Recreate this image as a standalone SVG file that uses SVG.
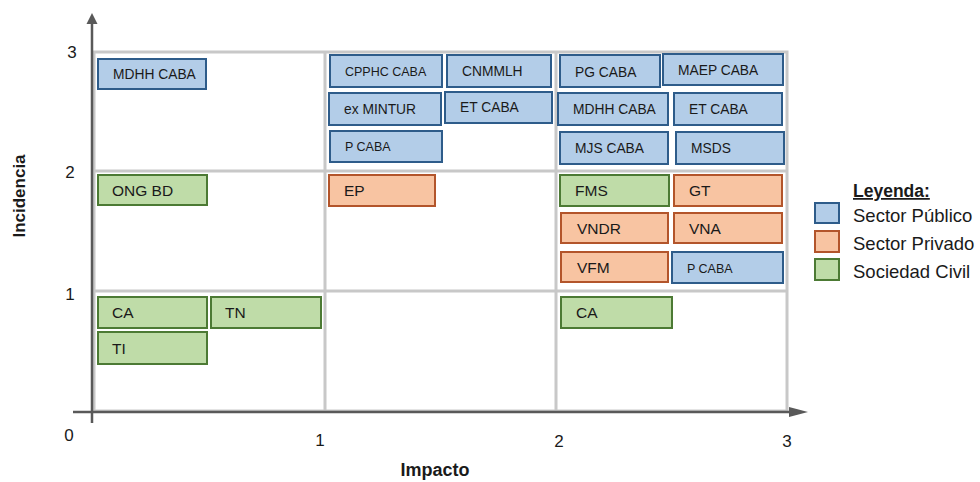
<svg xmlns="http://www.w3.org/2000/svg" width="980" height="482" viewBox="0 0 980 482">
<defs>
<style>
text{font-family:"Liberation Sans",Arial,sans-serif;fill:#1a1a1a}
.grid{fill:none;stroke:#c8c8c8;stroke-width:3}
.axis{stroke:#595959;stroke-width:2.5;fill:none}
.pub{fill:#b3cde8;stroke:#2e5c8a;stroke-width:2}
.pri{fill:#f8c4a2;stroke:#b3552b;stroke-width:2}
.civ{fill:#bfdca8;stroke:#4c7a34;stroke-width:2}
.s{font-size:12.5px}
.m{font-size:13.8px}
.l{font-size:15.5px}
.tick{font-size:17px}
.ttl{font-weight:bold}
.lg{font-size:18.5px}
</style>
</defs>
<g id="grid">
<rect class="grid" x="94" y="52" width="693" height="359"/>
<line class="grid" x1="325" y1="52" x2="325" y2="411"/>
<line class="grid" x1="556" y1="52" x2="556" y2="411"/>
<line class="grid" x1="94" y1="171" x2="787" y2="171"/>
<line class="grid" x1="94" y1="291" x2="787" y2="291"/>
</g>
<g id="axes">
<line class="axis" x1="92" y1="22" x2="92" y2="423"/>
<polygon points="92,13 86.5,24 97.5,24" fill="#595959"/>
<line class="axis" x1="73" y1="412" x2="790" y2="412"/>
<polygon points="808,412 789,407 789,417" fill="#595959"/>
<text class="tick" x="72" y="58" text-anchor="middle">3</text>
<text class="tick" x="70" y="178" text-anchor="middle">2</text>
<text class="tick" x="70" y="300" text-anchor="middle">1</text>
<text class="tick" x="69" y="441" text-anchor="middle">0</text>
<text class="tick" x="320" y="446" text-anchor="middle">1</text>
<text class="tick" x="559" y="447" text-anchor="middle">2</text>
<text class="tick" x="787" y="447" text-anchor="middle">3</text>
<text class="ttl" x="25" y="196" font-size="17" text-anchor="middle" transform="rotate(-90 25 196)">Incidencia</text>
<text class="ttl" x="435" y="476" font-size="18" text-anchor="middle">Impacto</text>
</g>
<g id="n-mdhh1"><rect class="pub" x="98" y="59" width="108" height="30"/><text class="m" x="113" y="79">MDHH CABA</text></g>
<g id="n-ongbd"><rect class="civ" x="98" y="175" width="109" height="30"/><text class="l" x="112" y="196">ONG BD</text></g>
<g id="n-cpphc"><rect class="pub" x="330" y="55" width="112" height="32"/><text class="s" x="345" y="76">CPPHC CABA</text></g>
<g id="n-cnmmlh"><rect class="pub" x="447" y="55" width="104" height="32"/><text class="m" x="462" y="76">CNMMLH</text></g>
<g id="n-exmintur"><rect class="pub" x="329" y="93" width="112" height="32"/><text class="m" x="344" y="114">ex MINTUR</text></g>
<g id="n-etcaba1"><rect class="pub" x="445" y="92" width="107" height="31"/><text class="m" x="460" y="112">ET CABA</text></g>
<g id="n-pcaba1"><rect class="pub" x="330" y="131" width="112" height="31"/><text class="s" x="345" y="151">P CABA</text></g>
<g id="n-ep"><rect class="pri" x="329" y="175" width="106" height="31"/><text class="l" x="344" y="196">EP</text></g>
<g id="n-pgcaba"><rect class="pub" x="560" y="55" width="100" height="32"/><text class="m" x="575" y="77">PG CABA</text></g>
<g id="n-maep"><rect class="pub" x="663" y="54" width="120" height="31"/><text class="m" x="678" y="75">MAEP CABA</text></g>
<g id="n-mdhh2"><rect class="pub" x="558" y="93" width="110" height="32"/><text class="m" x="573" y="114">MDHH CABA</text></g>
<g id="n-etcaba2"><rect class="pub" x="674" y="93" width="108" height="32"/><text class="m" x="689" y="114">ET CABA</text></g>
<g id="n-mjs"><rect class="pub" x="560" y="132" width="108" height="32"/><text class="m" x="575" y="153">MJS CABA</text></g>
<g id="n-msds"><rect class="pub" x="676" y="132" width="108" height="32"/><text class="m" x="691" y="153">MSDS</text></g>
<g id="n-fms"><rect class="civ" x="560" y="175" width="109" height="31"/><text class="l" x="575" y="196">FMS</text></g>
<g id="n-gt"><rect class="pri" x="674" y="175" width="108" height="31"/><text class="l" x="689" y="196">GT</text></g>
<g id="n-vndr"><rect class="pri" x="561" y="213" width="107" height="30"/><text class="l" x="577" y="234">VNDR</text></g>
<g id="n-vna"><rect class="pri" x="674" y="213" width="108" height="30"/><text class="l" x="689" y="234">VNA</text></g>
<g id="n-vfm"><rect class="pri" x="561" y="252" width="107" height="30"/><text class="l" x="577" y="273">VFM</text></g>
<g id="n-pcaba2"><rect class="pub" x="672" y="252" width="111" height="31"/><text class="s" x="687" y="273">P CABA</text></g>
<g id="n-ca1"><rect class="civ" x="98" y="297" width="109" height="31"/><text class="l" x="112" y="318">CA</text></g>
<g id="n-tn"><rect class="civ" x="211" y="297" width="110" height="31"/><text class="l" x="225" y="318">TN</text></g>
<g id="n-ti"><rect class="civ" x="98" y="332" width="109" height="32"/><text class="l" x="112" y="354">TI</text></g>
<g id="n-ca2"><rect class="civ" x="561" y="297" width="111" height="31"/><text class="l" x="576" y="318">CA</text></g>
<g id="connectors"></g>
<g id="legend">
<text x="853" y="197" font-size="17.5" font-weight="bold" text-decoration="underline">Leyenda:</text>
<rect class="pub" x="815" y="203" width="24" height="20"/>
<rect class="pri" x="815" y="231" width="24" height="21"/>
<rect class="civ" x="815" y="259" width="24" height="21"/>
<text class="lg" x="853" y="222">Sector Público</text>
<text class="lg" x="853" y="250">Sector Privado</text>
<text class="lg" x="853" y="278">Sociedad Civil</text>
</g>
</svg>
